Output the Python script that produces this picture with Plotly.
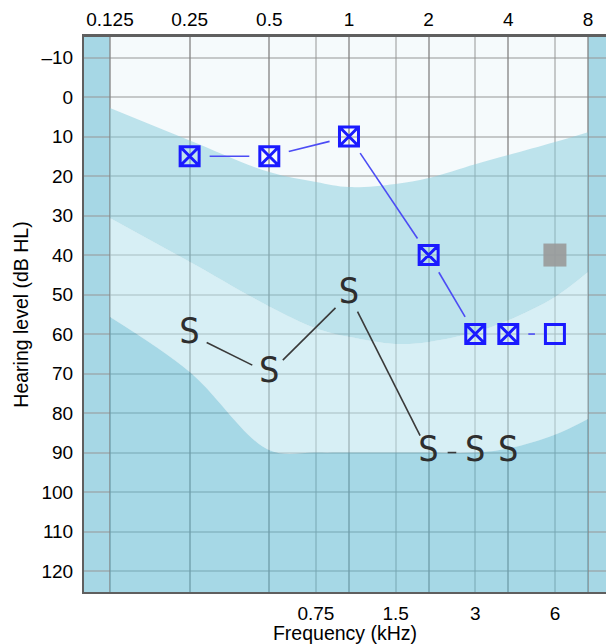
import math
import plotly.graph_objects as go

# ---------------- data ----------------
top_ticks = [0.125, 0.25, 0.5, 1, 2, 4, 8]
top_labels = ["0.125", "0.25", "0.5", "1", "2", "4", "8"]
bottom_ticks = [0.75, 1.5, 3, 6]
bottom_labels = ["0.75", "1.5", "3", "6"]
db_ticks = list(range(-10, 121, 10))
db_labels = ["\u201310"] + [str(v) for v in range(0, 121, 10)]

air_freqs = [0.25, 0.5, 1, 2, 3, 4, 6]
air_db = [15, 15, 10, 40, 60, 60, 60]
air_symbols = ["square-x-open"] * 6 + ["square-open"]

bone_freqs = [0.25, 0.5, 1, 2, 3, 4]
bone_db = [60, 70, 50, 90, 90, 90]

mask_freqs = [6]
mask_db = [40]

band_freqs = [0.125, 0.25, 0.5, 0.75, 1, 1.5, 2, 3, 4, 6, 8]
band_edge1 = [2.8, 11, 19, 21.5, 22.8, 22, 20.5, 17, 14.7, 11.4, 8.9]
band_edge2 = [30.6, 41.7, 53, 58.5, 60.7, 62.5, 62, 59.5, 56.5, 50.6, 44.3]
band_edge3 = [55.7, 69.6, 89.4, 90, 90, 90, 90, 90, 89, 85.5, 81.5]

# ---------------- layout geometry ----------------
W, H = 608, 644
ML, MR, MT, MB = 84, 2, 37, 52
PW, PH = W - ML - MR, H - MT - MB
OCT = math.log10(2)
x_lo = math.log10(top_ticks[0]) - 0.326 * OCT
x_hi = math.log10(top_ticks[-1]) + 0.226 * OCT
y_top, y_bot = -15.2, 125.3
PXD = PW / (x_hi - x_lo)
PXY = PH / (y_bot - y_top)


def gapped(xs, ys, gap):
    ox, oy = [], []
    for i in range(len(xs) - 1):
        x0, y0 = math.log10(xs[i]) * PXD, ys[i] * PXY
        x1, y1 = math.log10(xs[i + 1]) * PXD, ys[i + 1] * PXY
        dx, dy = x1 - x0, y1 - y0
        L = math.hypot(dx, dy)
        if L <= 2 * gap + 2:
            continue
        sx, sy = x0 + dx * gap / L, y0 + dy * gap / L
        ex, ey = x1 - dx * gap / L, y1 - dy * gap / L
        ox += [10 ** (sx / PXD), 10 ** (ex / PXD), None]
        oy += [sy / PXY, ey / PXY, None]
    return ox, oy


BG = "#f5fafc"
C1 = "rgba(133,204,220,0.5)"
C2 = "rgba(185,228,238,0.5)"
C3 = "rgba(87,182,208,0.5)"
SIDE = "#a6d7e5"

fig = go.Figure()

# bands
fig.add_trace(go.Scatter(x=band_freqs, y=band_edge1, mode="lines",
                         line=dict(width=0, shape="spline"), hoverinfo="skip"))
fig.add_trace(go.Scatter(x=band_freqs, y=band_edge2, mode="lines", fill="tonexty",
                         fillcolor=C1, line=dict(width=0, shape="spline"), hoverinfo="skip"))
fig.add_trace(go.Scatter(x=band_freqs, y=band_edge3, mode="lines", fill="tonexty",
                         fillcolor=C2, line=dict(width=0, shape="spline"), hoverinfo="skip"))
fig.add_trace(go.Scatter(x=band_freqs, y=[y_bot + 5] * len(band_freqs), mode="lines",
                         fill="tonexty", fillcolor=C3, line=dict(width=0), hoverinfo="skip"))

# connecting lines with gaps
bx, by = gapped(air_freqs, air_db, 20)
fig.add_trace(go.Scatter(x=bx, y=by, mode="lines", line=dict(color="#4c4cf5", width=1.6),
                         hoverinfo="skip"))
sx, sy = gapped(bone_freqs, bone_db, 19)
fig.add_trace(go.Scatter(x=sx, y=sy, mode="lines", line=dict(color="#3a3a3a", width=1.6),
                         hoverinfo="skip"))

# masking square
fig.add_trace(go.Scatter(x=mask_freqs, y=mask_db, mode="markers", xaxis="x2",
                         marker=dict(symbol="square", size=23, color="#999999",
                                     opacity=0.9, line=dict(width=0))))

# air conduction markers
fig.add_trace(go.Scatter(x=air_freqs, y=air_db, mode="markers",
                         marker=dict(symbol=air_symbols, size=19, color="#1a1aff",
                                     line=dict(width=3, color="#1a1aff"))))

# bone conduction S symbols
fig.add_trace(go.Scatter(x=bone_freqs, y=bone_db, mode="text", text=["S"] * len(bone_freqs),
                         textposition="middle center",
                         textfont=dict(family="DejaVu Sans Mono", size=35, color="#2e2e2e")))

fL = (math.log10(top_ticks[0]) - x_lo) / (x_hi - x_lo)
fR = (math.log10(top_ticks[-1]) - x_lo) / (x_hi - x_lo)
shapes = [
    dict(type="rect", xref="paper", yref="paper", x0=0, x1=fL, y0=0, y1=1,
         fillcolor=SIDE, line=dict(width=0), layer="below"),
    dict(type="rect", xref="paper", yref="paper", x0=fR, x1=1, y0=0, y1=1,
         fillcolor=SIDE, line=dict(width=0), layer="below"),
]

FONT = "Liberation Sans, Arial, sans-serif"
fig.update_layout(
    width=W, height=H,
    margin=dict(l=ML, r=MR, t=MT, b=MB, pad=0),
    paper_bgcolor="white", plot_bgcolor=BG,
    showlegend=False, hovermode=False,
    shapes=shapes,
    font=dict(family=FONT, color="black", size=19),
    xaxis=dict(type="log", range=[x_lo, x_hi], tickvals=bottom_ticks, ticktext=bottom_labels,
               showgrid=True, gridcolor="rgba(150,150,150,0.5)", gridwidth=1.5,
               zeroline=False, showline=True, linecolor="#5f5f5f", linewidth=2,
               ticks="outside", ticklen=3, tickcolor="rgba(0,0,0,0)",
               tickfont=dict(size=19),
               title=dict(text="Frequency (kHz)", font=dict(size=19.5), standoff=0)),
    xaxis2=dict(type="log", range=[x_lo, x_hi], overlaying="x", side="top",
                tickvals=top_ticks, ticktext=top_labels,
                showgrid=True, gridcolor="rgba(130,130,130,0.65)", gridwidth=2,
                zeroline=False, showline=True, linecolor="#5f5f5f", linewidth=2.5,
                ticks="outside", ticklen=1, tickcolor="rgba(0,0,0,0)",
                tickfont=dict(size=19)),
    yaxis=dict(range=[y_bot, y_top], tickvals=db_ticks, ticktext=db_labels,
               showgrid=True, gridcolor="rgba(150,150,150,0.5)", gridwidth=1.5,
               zeroline=False, showline=True, linecolor="#5f5f5f", linewidth=2,
               ticks="outside", ticklen=5, tickcolor="rgba(0,0,0,0)",
               tickfont=dict(size=19),
               title=dict(text="Hearing level (dB HL)", font=dict(size=19.5), standoff=8)),
)

fig.write_html("out.html", config={"displayModeBar": False},
               post_script="document.body.style.margin='0px';")
